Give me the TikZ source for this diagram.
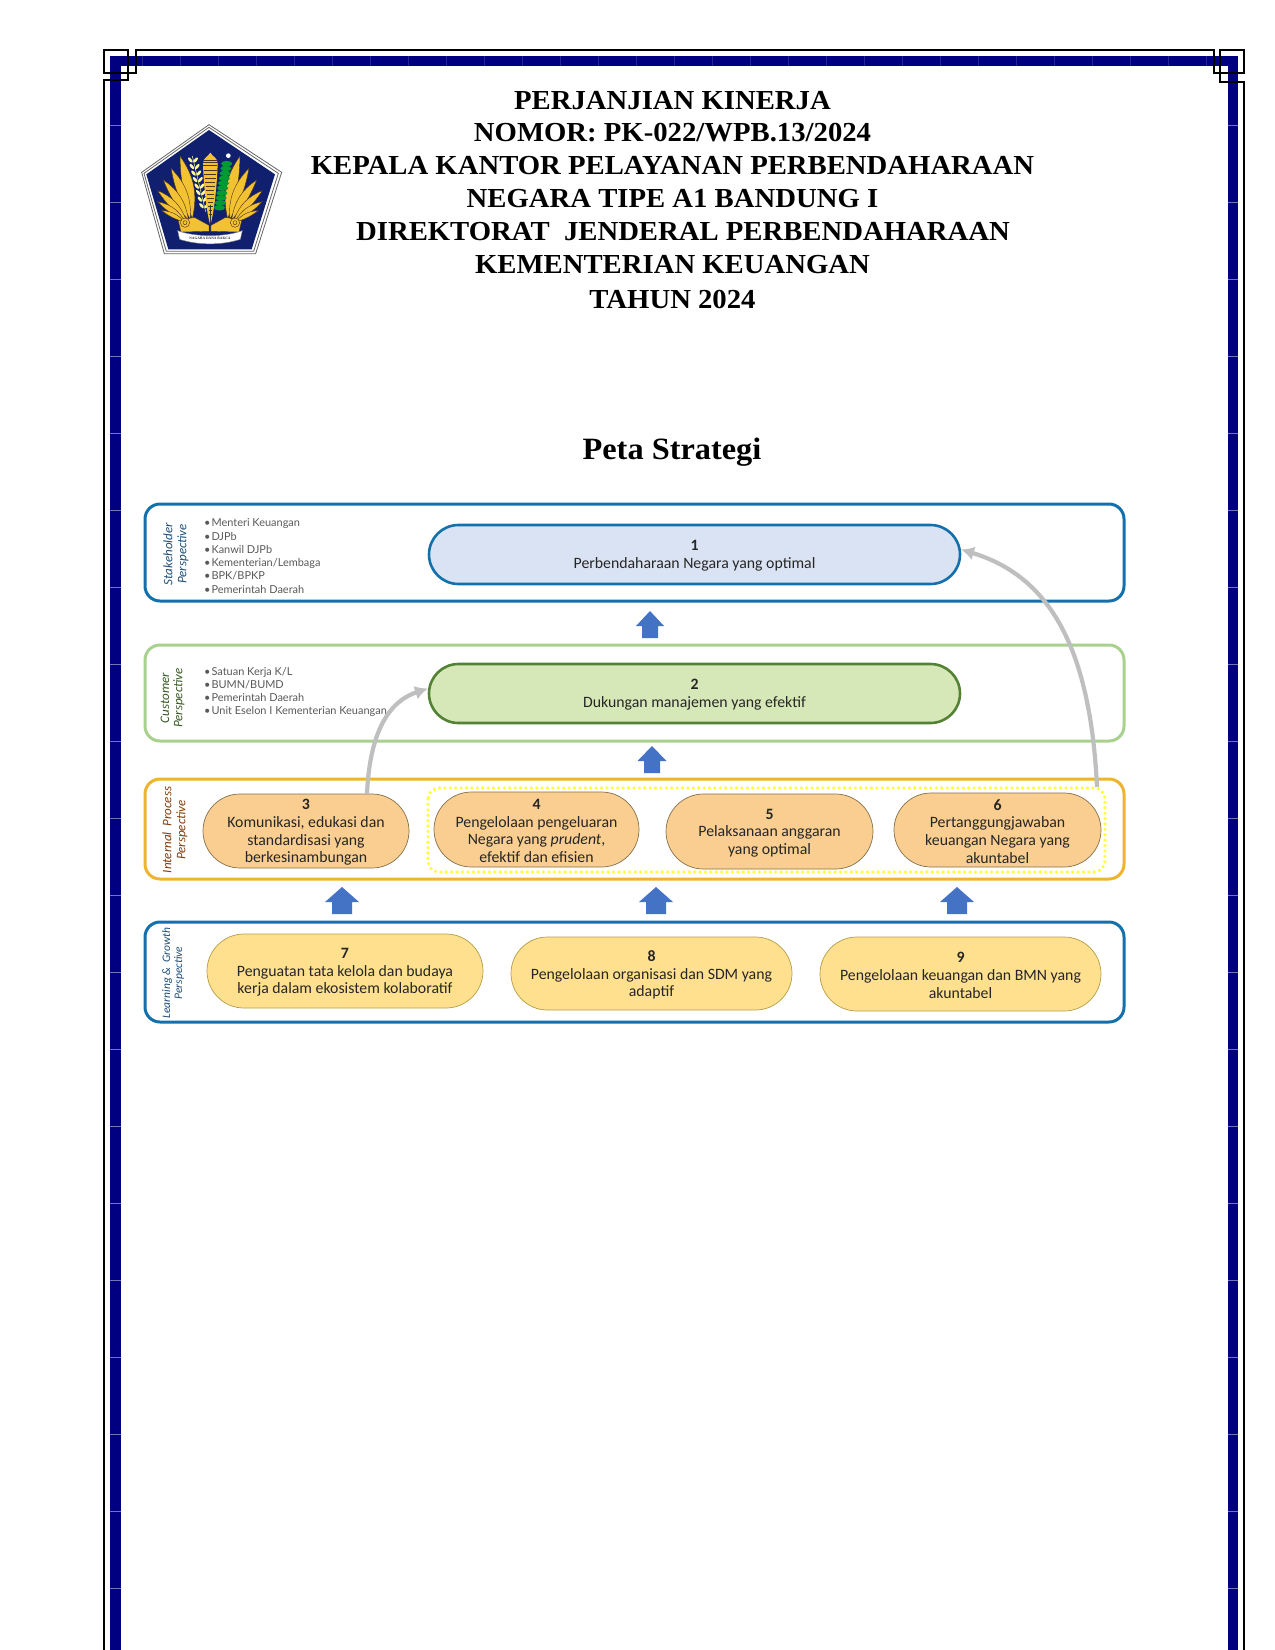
\documentclass[tikz,border=0pt]{standalone}
\usepackage{fontspec}
\setmainfont{Liberation Serif}
\newfontfamily\titlef[FakeStretch=1.044]{Liberation Serif}
\newfontfamily\carl{Carlito}
\newfontfamily\latof{Lato}
\usetikzlibrary{arrows.meta,calc}
\definecolor{bandblue}{HTML}{000080}
\definecolor{panelblue}{HTML}{1270AC}
\definecolor{panelgreen}{HTML}{A9D18E}
\definecolor{panelgold}{HTML}{EEB42E}
\definecolor{nodeblue}{HTML}{DAE3F3}
\definecolor{nodegreen}{HTML}{D7E8B8}
\definecolor{nodeorange}{HTML}{F9CE90}
\definecolor{nodeyellow}{HTML}{FFE08F}
\definecolor{stemgreen}{HTML}{548235}
\definecolor{arrowblue}{HTML}{4472C4}
\definecolor{arrowgrey}{HTML}{BFBFBF}
\definecolor{gold}{HTML}{F2C232}
\definecolor{logonavy}{HTML}{10206E}
\definecolor{txtbrown}{HTML}{843C0C}
\definecolor{txtgreen}{HTML}{385723}
\definecolor{txtblue}{HTML}{1F4E79}
\definecolor{dotyellow}{HTML}{FFFF3C}
\definecolor{edgeorange}{HTML}{85704A}
\definecolor{edgeyellow}{HTML}{B59E45}
\tikzset{
  frameline/.style={line width=2.6pt,black},
  tile/.style={line width=.7pt,white,opacity=.45},
  tilefaint/.style={line width=.7pt,white,opacity=.15},
  titletext/.style={font=\titlef\fontsize{27.5}{30}\selectfont\bfseries,inner sep=0,anchor=center},
  panel/.style={line width=3pt,fill=none,inner sep=0,outer sep=0},
  pillbox/.style={inner sep=0,outer sep=0},
  pilltext/.style={inner sep=0,align=center,text=black!85,
    font=\carl\fontsize{15.8}{17.6}\selectfont},
  thick pill/.style={line width=2.6pt},
  thin pill/.style={line width=.7pt},
  blockarrow/.style={fill=arrowblue,draw=none},
  greyarrow/.style={line width=4.2pt,arrowgrey,-{Latex[length=13pt,width=14pt]}},
  persp/.style={rotate=90,inner sep=0,font=\carl\itshape\fontsize{13}{14}\selectfont},
  listitem/.style={anchor=west,inner sep=0,text=black!65,font=\latof\fontsize{10.95}{13}\selectfont},
  dotbox/.style={draw=dotyellow,line width=3.6pt,dash pattern=on 0pt off 5.4pt,line cap=round,rounded corners=11pt},
  feather/.style={fill=gold,draw=black!60!brown,line width=.4pt},
}
\newcommand{\pillnode}[7]{% name x1 y1 x2 y2 style text
  \node[pillbox,#6,minimum width={(#4-#2)*1pt},minimum height={(#5-#3)*1pt},
        rounded corners={(#5-#3)/2*1pt}] (#1) at ({(#2+#4)/2},{(#3+#5)/2}) {};
  \node[pilltext,yshift=-1.4pt] (#1text) at (#1.center) {#7};}
\newcommand{\panelbox}[6]{% name x1 y1 x2 y2 colour
  \node[panel,draw=#6,minimum width={(#4-#2)*1pt},minimum height={(#5-#3)*1pt},
        rounded corners=15pt] (#1) at ({(#2+#4)/2},{(#3+#5)/2}) {};}
\newcommand{\uparrowshape}[6]{% cx ytop ybot headhalf shafthalf headlen
  \fill[blockarrow] (#1,#2) -- ({#1+#4},{#2+#6}) -- ({#1+#5},{#2+#6}) -- ({#1+#5},#3)
    -- ({#1-#5},#3) -- ({#1-#5},{#2+#6}) -- ({#1-#4},{#2+#6}) -- cycle;}
\newcommand{\wingshape}{%
  \foreach \tx/\ty/\bx/\by in {135/108/172/296,108/145/166/298,85/180/160/300,68/212/154/302,68/245/150/304,80/272/148/306}{
    \draw[feather] (\bx,\by) to[bend left=10] (\tx,\ty) to[bend left=24] (\bx,\by);}
  \draw[feather] (130,302) -- (178,292) -- (222,316) -- (222,334) -- (138,336) -- cycle;
  \draw[feather] (150,308) circle (14);
  \draw[feather] (150,308) circle (6);
}
\begin{document}
\begin{tikzpicture}[x=1pt,y=-1pt]
\useasboundingbox (0,0) rectangle (1275,1650);
\fill[white] (0,0) rectangle (1275,1650);
% ---- border ----
\fill[bandblue] (110,56) rectangle (1238,66);
\fill[bandblue] (110,56) rectangle (121,1650);
\fill[bandblue] (1228,56) rectangle (1238,1650);
\foreach \k in {0,...,19}{
  \draw[tile] (109,{125+77*\k}) -- (122,{125+77*\k});
  \draw[tile] (1227,{125+77*\k}) -- (1239,{125+77*\k});
}
\foreach \k in {0,...,28}{
  \draw[tilefaint] ({1206-38*\k},55) -- ({1206-38*\k},67);
}
\draw[frameline] (104,1650) -- (104,80) -- (128,80) -- (128,50) -- (104,50) -- (104,73) -- (136,73) -- (136,50) -- (1214,50) -- (1214,73) -- (1244,73) -- (1244,50) -- (1220,50) -- (1220,82) -- (1244,82) -- (1244,1650);
% ---- emblem ----
\begin{scope}[shift={(135,120)},x=.3333pt,y=-.3333pt]
  \draw[fill=white,draw=black!60,line width=.8pt] (222,14) -- (440,157) -- (362,401) -- (88,401) -- (20,157) -- cycle;
  \draw[fill=white,draw=black!60,line width=.8pt] (222,22) -- (430,160) -- (356,394) -- (94,394) -- (27,160) -- cycle;
  \fill[logonavy] (222,30) -- (420,163) -- (350,388) -- (100,388) -- (34,163) -- cycle;
  \wingshape
  \begin{scope}[shift={(450,0)},xscale=-1]\wingshape\end{scope}
  % wheat
  \draw[yellow!40!white,line width=.5pt] (172,108) -- (212,275);
  \foreach \t in {0.05,0.17,...,1.0}{
    \fill[yellow!40!white] ($(172,112)!\t!(212,275)+(-8,0)$) ellipse [x radius=3.2pt,y radius=1.4pt,rotate=-50];
    \fill[yellow!40!white] ($(172,112)!\t!(212,275)+(8,0)$) ellipse [x radius=3.2pt,y radius=1.4pt,rotate=50];
  }
  % rice
  \foreach \t in {0.04,0.14,...,1.0}{
    \fill[green!50!black!80!cyan] ($(276,125)!\t!(252,272)$) ellipse [x radius=5.6pt,y radius=2.8pt];
  }
  \fill[white] (280,107) circle (7);
  % column
  \fill[gold] (204,132) .. controls (204,112) and (218,112) .. (226,98) .. controls (234,112) and (248,112) .. (248,132) -- cycle;
  \fill[gold] (204,130) .. controls (206,200) and (215,280) .. (226,315) .. controls (237,280) and (246,200) .. (248,130) -- cycle;
  \foreach \y in {120,128,136,150,162,174,186,198,210,222,234,246,258,270,282}{
    \draw[black!60!brown,line width=.4pt] ({226-22*(315-\y)/185},\y) -- ({226+22*(315-\y)/185},\y);
  }
  \draw[black!80,line width=.8pt] (226,255) -- (226,318);
  % banner
  \draw[fill=white,draw=black!50,line width=.4pt] (128,332) .. controls (180,352) and (270,352) .. (322,332) -- (316,358) .. controls (260,376) and (190,376) .. (134,358) -- cycle;
  \node[inner sep=0,font=\fontsize{3.6}{4}\selectfont\bfseries,text=black!80] (motto) at (225,356) {NAGARA DANA RAKCA};
\end{scope}
% ---- titles ----
\node[titletext] (t1) at (672.5,100.5) {PERJANJIAN KINERJA};
\node[titletext] (t2) at (672.5,133) {NOMOR: PK-022/WPB.13/2024};
\node[titletext] (t3) at (672.5,165.5) {KEPALA KANTOR PELAYANAN PERBENDAHARAAN};
\node[titletext] (t4) at (672.5,199) {NEGARA TIPE A1 BANDUNG I};
\node[titletext] (t5) at (683,231.5) {DIREKTORAT\ \ JENDERAL PERBENDAHARAAN};
\node[titletext] (t6) at (672.5,265) {KEMENTERIAN KEUANGAN};
\node[titletext] (t7) at (672.5,299) {TAHUN 2024};
\node[titletext,font=\titlef\fontsize{31}{34}\selectfont\bfseries] (peta) at (672,452) {Peta Strategi};
% ---- perspective panels ----
\panelbox{pS}{145}{504}{1124}{601}{panelblue}
\panelbox{pC}{145}{645}{1124}{741}{panelgreen}
\panelbox{pI}{145}{779}{1124}{879}{panelgold}
\panelbox{pL}{145}{922}{1124}{1022}{panelblue}
% ---- side labels ----
\node[persp,text=txtblue] (sa) at (168,554) {Stakeholder};
\node[persp,text=txtblue] (sb) at (183,554) {Perspective};
\node[persp,text=txtgreen] (ca) at (165,698) {Customer};
\node[persp,text=txtgreen] (cb) at (179,698) {Perspective};
\node[persp,text=txtbrown] (ia) at (167,830) {Internal\ \ Process};
\node[persp,text=txtbrown] (ib) at (182,830) {Perspective};
\node[persp,text=txtblue,font=\carl\itshape\fontsize{11.5}{13}\selectfont] (la) at (167,973) {Learning \&\ \ Growth};
\node[persp,text=txtblue,font=\carl\itshape\fontsize{11.5}{13}\selectfont] (lb) at (179,973) {Perspective};
% ---- lists ----
\foreach \n/\y/\s in {a/523/Menteri Keuangan,b/536.5/DJPb,c/549.5/Kanwil DJPb,d/563/Kementerian\slash Lembaga,e/576/BPK\slash BPKP,f/589.5/Pemerintah Daerah}{
  \node[listitem] (ls\n) at (204,\y) {\textbullet\kern1pt \s};}
\foreach \n/\y/\s in {a/672/Satuan Kerja K\slash L,b/685/BUMN\slash BUMD,c/697.5/Pemerintah Daerah,d/711/Unit Eselon I Kementerian Keuangan}{
  \node[listitem] (lc\n) at (204,\y) {\textbullet\kern1pt \s};}
% ---- objectives ----
\pillnode{n1}{429}{525}{960}{584}{draw=panelblue,fill=nodeblue,thick pill}{\textbf{1}\\Perbendaharaan Negara yang optimal}
\pillnode{n2}{429}{664}{960}{723}{draw=stemgreen,fill=nodegreen,thick pill}{\textbf{2}\\Dukungan manajemen yang efektif}
\draw[dotbox] (428,788) rectangle (1105,872);
\pillnode{n3}{203}{794}{409}{868}{draw=edgeorange,fill=nodeorange,thin pill}{\textbf{3}\\Komunikasi, edukasi dan\\standardisasi yang\\berkesinambungan}
\pillnode{n4}{434}{792}{639}{867}{draw=edgeorange,fill=nodeorange,thin pill}{\textbf{4}\\Pengelolaan pengeluaran\\Negara yang \textit{prudent},\\efektif dan efisien}
\pillnode{n5}{666}{794}{873}{869}{draw=edgeorange,fill=nodeorange,thin pill}{\textbf{5}\\Pelaksanaan anggaran\\yang optimal}
\pillnode{n6}{894}{793}{1101}{867}{draw=edgeorange,fill=nodeorange,thin pill}{\textbf{6}\\Pertanggungjawaban\\keuangan Negara yang\\akuntabel}
\pillnode{n7}{207}{934}{483}{1008}{draw=edgeyellow,fill=nodeyellow,thin pill}{\textbf{7}\\Penguatan tata kelola dan budaya\\kerja dalam ekosistem kolaboratif}
\pillnode{n8}{511}{937}{792}{1010}{draw=edgeyellow,fill=nodeyellow,thin pill}{\textbf{8}\\Pengelolaan organisasi dan SDM yang\\adaptif}
\pillnode{n9}{820}{937}{1101}{1011}{draw=edgeyellow,fill=nodeyellow,thin pill}{\textbf{9}\\Pengelolaan keuangan dan BMN yang\\akuntabel}
% ---- block arrows ----
\uparrowshape{650}{611}{638}{14}{8}{15}
\uparrowshape{652}{746}{773}{14.5}{8}{15}
\uparrowshape{342}{887}{914}{17}{10}{15}
\uparrowshape{656}{887}{914}{17}{10}{15}
\uparrowshape{957}{887}{914}{17}{10}{15}
% ---- grey curved connectors ----
\coordinate (b6) at (1097,787);
\coordinate (e1) at ([xshift=1pt,yshift=5pt]n1.east);
\coordinate (b3) at (367,794);
\coordinate (e2) at ([xshift=-1pt,yshift=5pt]n2.west);
\draw[greyarrow] (b6) .. controls (1090,640) and (1045,575) .. (e1);
\draw[greyarrow] (b3) .. controls (370,725) and (393,700) .. (e2);
\end{tikzpicture}
\end{document}
